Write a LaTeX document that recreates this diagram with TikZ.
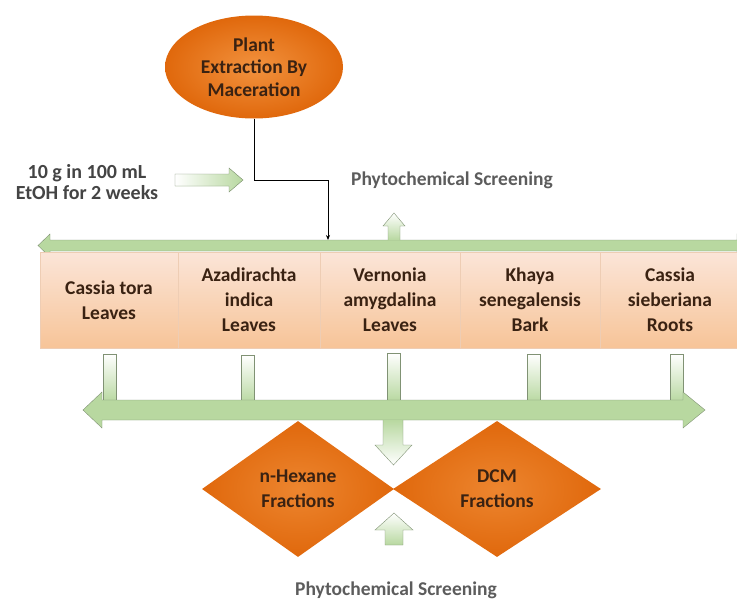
\documentclass[tikz,border=0pt]{standalone}
\usepackage{fontspec}
\setmainfont{Carlito}
\usepackage{xcolor}
\usetikzlibrary{arrows.meta,shapes.geometric}
\definecolor{macOrange}{RGB}{224,104,12}
\definecolor{macLight}{RGB}{242,146,62}
\definecolor{cellTop}{RGB}{251,229,216}
\definecolor{cellBot}{RGB}{247,196,152}
\definecolor{cellEdge}{RGB}{238,205,180}
\definecolor{barGreen}{RGB}{184,216,160}
\definecolor{edgeGreen}{RGB}{128,146,116}
\definecolor{textBrown}{RGB}{58,34,18}
\definecolor{labelGrey}{RGB}{92,92,92}
\definecolor{doseGrey}{RGB}{68,68,68}

\begin{document}
\begin{tikzpicture}[x=1pt, y=-1pt,
  font=\fontsize{19.5}{25}\selectfont\bfseries,
  plant/.style={ellipse, minimum width=178, minimum height=103, inner sep=0pt,
              align=center, text=textBrown, inner color=macLight, outer color=macOrange,
              font=\fontsize{19.5}{22.5}\selectfont\bfseries},
  cell/.style={draw=cellEdge, thin, minimum height=96, inner sep=0pt, align=center,
              text=textBrown, top color=cellTop, bottom color=cellBot},
  frac/.style={diamond, minimum width=#1, minimum height=136, inner sep=0pt, align=center,
              text=textBrown, inner color=macLight!70!macOrange, outer color=macOrange},
  stem/.style={draw=edgeGreen, thin, minimum width=13, minimum height=48, inner sep=0pt,
              top color=white, bottom color=barGreen},
  bar/.style={draw=edgeGreen, thin, fill=barGreen},
  upshade/.style={draw=edgeGreen, thin, top color=white, bottom color=barGreen},
  downshade/.style={draw=edgeGreen, thin, top color=barGreen, bottom color=white},
  screen/.style={text=labelGrey},
  dose/.style={text=doseGrey, align=center, font=\fontsize{20}{21.5}\selectfont\bfseries},
  link/.style={-{Stealth[length=5pt,width=4pt]}, thick, black}
]
\useasboundingbox (0,0) rectangle (737,600);
\clip (0,0) rectangle (737,600);

% source and conditions
\node[plant] (plant) at (254,67) {Plant\\Extraction By\\Maceration};
\node[dose] (dose) at (87,182) {10 g in 100 mL\\EtOH for 2 weeks};
\node[screen] (scrTop) at (452,180) {Phytochemical Screening};

\draw[bar, left color=white, right color=barGreen]
  (175,174) -- (229,174) -- (229,168) -- (243,180) -- (229,192) -- (229,186) -- (175,186) -- cycle;

% upper bar with the five plant parts
\draw[bar] (38,245.5) -- (50,234) -- (50,240) -- (737,240) -- (737,234) -- (749,245.5)
  -- (737,257) -- (737,251) -- (50,251) -- (50,257) -- cycle;
\draw[upshade] (388,240) -- (388,226) -- (383,226) -- (394,213) -- (405,226) -- (400,226) -- (400,240);

\coordinate (bend) at (328,180);
\coordinate (hit) at (328,240);
\draw[link] (plant.south) |- (bend) -- (hit);

\node[cell, minimum width=138] (cTora) at (109,300) {Cassia tora\\Leaves};
\node[cell, minimum width=142] (cNeem) at (249,300) {Azadirachta\\indica\\Leaves};
\node[cell, minimum width=140] (cVern) at (390,300) {Vernonia\\amygdalina\\Leaves};
\node[cell, minimum width=140] (cKhaya) at (530,300) {Khaya\\senegalensis\\Bark};
\node[cell, minimum width=140] (cSieb) at (670,300) {Cassia\\sieberiana\\Roots};

% stems into the lower bar
\node[stem] (s1) at (110,378) {};
\node[stem] (s2) at (248,379) {};
\node[stem] (s3) at (394,377) {};
\node[stem] (s4) at (534,378) {};
\node[stem] (s5) at (677,378) {};

\draw[bar] (83,410) -- (102,392) -- (102,400) -- (683,400) -- (683,392) -- (705,410)
  -- (683,428) -- (683,420) -- (102,420) -- (102,428) -- cycle;
\draw[downshade] (383,420) -- (383,445) -- (375,445) -- (393.5,465) -- (412,445) -- (403,445) -- (403,420);

% fractions
\node[frac=192] (hex) at (298,489) {n-Hexane\\Fractions};
\node[frac=208] (dcm) at (497,489) {DCM\\Fractions};

\draw[upshade] (385,545) -- (385,530) -- (375,530) -- (394,513) -- (413,530) -- (403,530) -- (403,545) -- cycle;
\node[screen] (scrBot) at (396,590) {Phytochemical Screening};

\end{tikzpicture}
\end{document}
